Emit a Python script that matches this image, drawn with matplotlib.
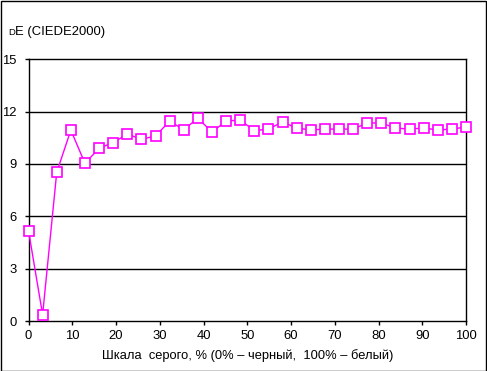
import matplotlib
matplotlib.use("Agg")
import matplotlib.pyplot as plt
from matplotlib.patches import Rectangle
import numpy as np

plt.rcParams['font.family'] = ['Liberation Sans', 'DejaVu Sans']

de_values = [5.18, 0.36, 8.52, 10.94, 9.04, 9.90, 10.23, 10.71, 10.42, 10.60,
             11.46, 10.96, 11.63, 10.83, 11.46, 11.52, 10.91, 11.00, 11.41, 11.06,
             10.95, 11.00, 11.00, 11.00, 11.35, 11.35, 11.06, 11.00, 11.06, 10.95,
             11.00, 11.12]
gray_pct = np.linspace(0, 100, len(de_values))
x_ticks = [0, 10, 20, 30, 40, 50, 60, 70, 80, 90, 100]
y_ticks = [0, 3, 6, 9, 12, 15]

fig = plt.figure(figsize=(4.87, 3.71), dpi=100)
ax = fig.add_axes([28.5/487, 1-321/371, (466-28.5)/487, (321-59.3)/371])

for yv in y_ticks[1:-1]:
    ax.axhline(yv, color='black', lw=1.0, zorder=1)

ax.plot(gray_pct, de_values, color='#FF00FF', lw=1.0, marker='s', markersize=7.5,
        markerfacecolor='white', markeredgecolor='#FF00FF', markeredgewidth=1.2,
        zorder=3, clip_on=False)

ax.set_xlim(0, 100)
ax.set_ylim(0, 15)
ax.set_xticks(x_ticks)
ax.set_yticks(y_ticks)
ax.tick_params(direction='out', length=2.8, width=1, labelsize=9.4, colors='black')
ax.tick_params(axis='x', pad=4)
ax.tick_params(axis='y', pad=6)
for s in ax.spines.values():
    s.set_linewidth(1.0)
    s.set_color('black')

ax.set_xlabel('Шкала  серого, % (0% – черный,  100% – белый)', fontsize=9.3, labelpad=5)

fig.text(8/487, 1-32.5/371, 'D', fontsize=6.8, va='center', ha='left')
fig.text(15/487, 1-32/371, 'E (CIEDE2000)', fontsize=9.4, va='center', ha='left')

fig.patches.append(Rectangle((0.5/487, 0.5/371), 1-1.5/487, 1-1.5/371,
                             transform=fig.transFigure, fill=False, lw=1, edgecolor='black'))

fig.savefig('out.png', dpi=100)
